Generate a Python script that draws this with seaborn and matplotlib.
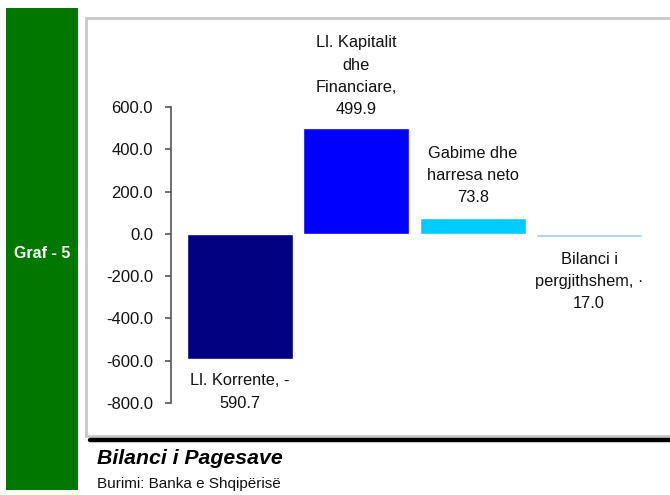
import matplotlib
matplotlib.use("Agg")
import matplotlib.pyplot as plt
import seaborn as sns
import pandas as pd
from matplotlib.patches import Rectangle
from matplotlib.lines import Line2D

categories = ["Ll. Korrente", "Ll. Kapitalit dhe Financiare", "Gabime dhe harresa neto", "Bilanci i pergjithshem"]
values = [-590.7, 499.9, 73.8, -17.0]
labels = ["Ll. Korrente, -\n590.7", "Ll. Kapitalit\ndhe\nFinanciare,\n499.9",
          "Gabime dhe\nharresa neto\n73.8", "Bilanci i\npergjithshem, ·\n17.0"]
colors = ["#000080", "#0000FF", "#00CCFF", "#99CCFF"]
yticks = [-800, -600, -400, -200, 0, 200, 400, 600]

sns.set_style("white")
plt.rcParams['font.family'] = ['Liberation Sans', 'DejaVu Sans']

W, H = 670, 495
fig = plt.figure(figsize=(6.7, 4.95), dpi=100)

def fx(px): return px / W
def fy(py): return 1 - py / H

fig.patches.append(Rectangle((fx(6), fy(490)), fx(78) - fx(6), fy(8) - fy(490),
                             transform=fig.transFigure, facecolor="#007800", edgecolor="none", zorder=0))
fig.text(fx(42), fy(254), "Graf - 5", color="white", fontsize=11.5, fontweight="bold",
         ha="center", va="center")
fig.patches.append(Rectangle((fx(86), fy(436)), fx(680) - fx(86), fy(18) - fy(436),
                             transform=fig.transFigure, facecolor="white", edgecolor="#C8C8C8",
                             linewidth=2, zorder=0))
fig.lines.append(Line2D([fx(90), fx(672)], [fy(440), fy(440)], transform=fig.transFigure,
                        color="black", linewidth=3.2))
fig.text(fx(97), fy(458), "Bilanci i Pagesave", fontsize=15.3, fontweight="bold", fontstyle="italic",
         ha="left", va="center", color="black")
fig.text(fx(97), fy(484), "Burimi: Banka e Shqipërisë", fontsize=11, ha="left", va="center", color="#111111")

ax = fig.add_axes([fx(171), fy(403), fx(660) - fx(171), fy(107) - fy(403)])
ax.set_facecolor("none")
ax.set_zorder(5)

df = pd.DataFrame({"cat": categories, "val": values})
sns.barplot(data=df, x="cat", y="val", hue="cat", palette=colors, saturation=1,
            width=0.91, legend=False, ax=ax, order=categories, hue_order=categories)

ax.set_ylim(-800, 600)
ax.set_xlim(-0.593, 3.61)
ax.set_yticks(yticks)
ax.set_yticklabels([f"{v:.1f}" for v in yticks], fontsize=12, color="#111111")
ax.set_xticks([])
ax.set_xlabel("")
ax.set_ylabel("")
for s in ["top", "right", "bottom"]:
    ax.spines[s].set_visible(False)
ax.spines["left"].set_color("#555555")
ax.spines["left"].set_linewidth(1.2)
ax.tick_params(axis="y", direction="out", length=4, width=1.2, color="#555555", pad=9, left=True)

for i, (v, lab) in enumerate(zip(values, labels)):
    if v >= 0:
        off = 8 if i == 1 else 9.5
        ax.annotate(lab, xy=(i, v), xytext=(0, off), textcoords="offset points",
                    ha="center", va="bottom", fontsize=11.8, linespacing=1.6,
                    color="#111111", annotation_clip=False)
    else:
        ax.annotate(lab, xy=(i, v), xytext=(0, -10.5), textcoords="offset points",
                    ha="center", va="top", fontsize=11.8, linespacing=1.6,
                    color="#111111", annotation_clip=False)

fig.savefig("out.png", dpi=100)
